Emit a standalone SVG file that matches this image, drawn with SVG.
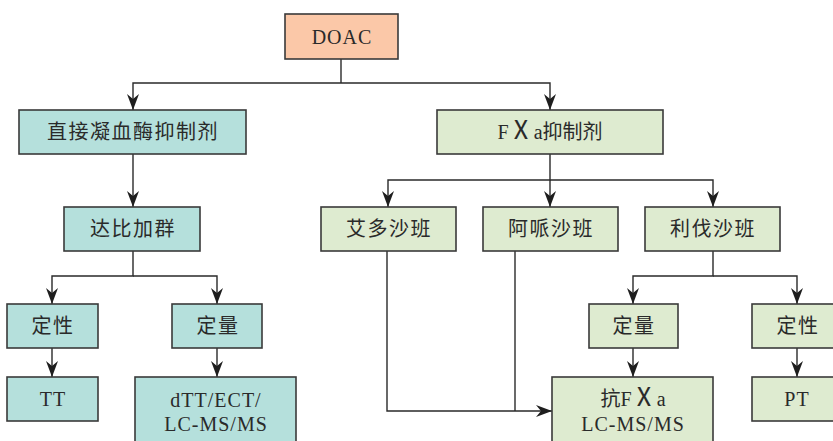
<svg xmlns="http://www.w3.org/2000/svg" width="833" height="441" viewBox="0 0 833 441">
<defs>
<marker id="arr" markerUnits="userSpaceOnUse" viewBox="0 0 16 12" refX="16" refY="6" markerWidth="16" markerHeight="12" orient="auto">
<path d="M0,0 L16,6 L0,12 L5,6 Z" fill="#1e1e1e"/>
</marker>
<style>
.box rect{stroke:#3a3a3a;stroke-width:1.6}
.teal rect{fill:#b5e0dc}
.green rect{fill:#deebd0}
.peach rect{fill:#fbc8a8}
text{font-family:"Liberation Serif","Noto Sans CJK SC",serif;font-size:20px;fill:#2a2a2a;text-anchor:middle}
.cn{letter-spacing:1.5px}
.lat{letter-spacing:1px}
.x{font-size:25px}
#connectors path{fill:none;stroke:#2a2a2a;stroke-width:1.4}
.a{marker-end:url(#arr)}
</style>
</defs>
<g id="connectors">
<path d="M341,59 V83"/>
<path class="a" d="M341,83 H133 V110"/>
<path class="a" d="M341,83 H550 V110"/>
<path class="a" d="M133,154 V207"/>
<path class="a" d="M550,154 V180 H388 V207"/>
<path class="a" d="M550,180 V207"/>
<path class="a" d="M550,180 H713 V207"/>
<path class="a" d="M133,251 V276 H52 V304"/>
<path class="a" d="M133,276 H217 V304"/>
<path class="a" d="M52,348 V377"/>
<path class="a" d="M217,348 V377"/>
<path class="a" d="M387,251 V411 H552"/>
<path d="M515,251 V411"/>
<path class="a" d="M713,251 V276 H633 V304"/>
<path class="a" d="M713,276 H797 V304"/>
<path class="a" d="M633,348 V377"/>
<path class="a" d="M797,348 V377"/>
</g>
<g id="doac" class="box peach"><rect x="285" y="14" width="113" height="45"/><text class="lat" x="342" y="44">DOAC</text></g>
<g id="dti" class="box teal"><rect x="19" y="110" width="227" height="44"/><text class="cn" x="133" y="139">直接凝血酶抑制剂</text></g>
<g id="fxa" class="box green"><rect x="437" y="110" width="226" height="44"/><text x="550" y="139">F<tspan class="x">Ⅹ</tspan>a抑制剂</text></g>
<g id="dabigatran" class="box teal"><rect x="64" y="207" width="136" height="44"/><text class="cn" x="133" y="236">达比加群</text></g>
<g id="edoxaban" class="box green"><rect x="321" y="207" width="135" height="44"/><text class="cn" x="389" y="236">艾多沙班</text></g>
<g id="apixaban" class="box green"><rect x="483" y="207" width="135" height="44"/><text class="cn" x="551" y="236">阿哌沙班</text></g>
<g id="rivaroxaban" class="box green"><rect x="645" y="207" width="135" height="44"/><text class="cn" x="713" y="236">利伐沙班</text></g>
<g id="qual-left" class="box teal"><rect x="7" y="304" width="91" height="44"/><text class="cn" x="53" y="333">定性</text></g>
<g id="quant-left" class="box teal"><rect x="172" y="304" width="90" height="44"/><text class="cn" x="218" y="333">定量</text></g>
<g id="tt" class="box teal"><rect x="7" y="377" width="91" height="44"/><text class="lat" x="53" y="406">TT</text></g>
<g id="dtt" class="box teal"><rect x="135" y="377" width="161" height="70"/><text class="lat" x="216" y="407">dTT/ECT/</text><text class="lat" x="216" y="431">LC-MS/MS</text></g>
<g id="quant-right" class="box green"><rect x="589" y="304" width="89" height="44"/><text class="cn" x="634" y="333">定量</text></g>
<g id="qual-right" class="box green"><rect x="752" y="304" width="90" height="44"/><text class="cn" x="798" y="333">定性</text></g>
<g id="antifxa" class="box green"><rect x="552" y="377" width="161" height="70"/><text x="633" y="406">抗F<tspan class="x">Ⅹ</tspan>a</text><text class="lat" x="633" y="431">LC-MS/MS</text></g>
<g id="pt" class="box green"><rect x="752" y="377" width="90" height="44"/><text class="lat" x="797" y="406">PT</text></g>
</svg>
